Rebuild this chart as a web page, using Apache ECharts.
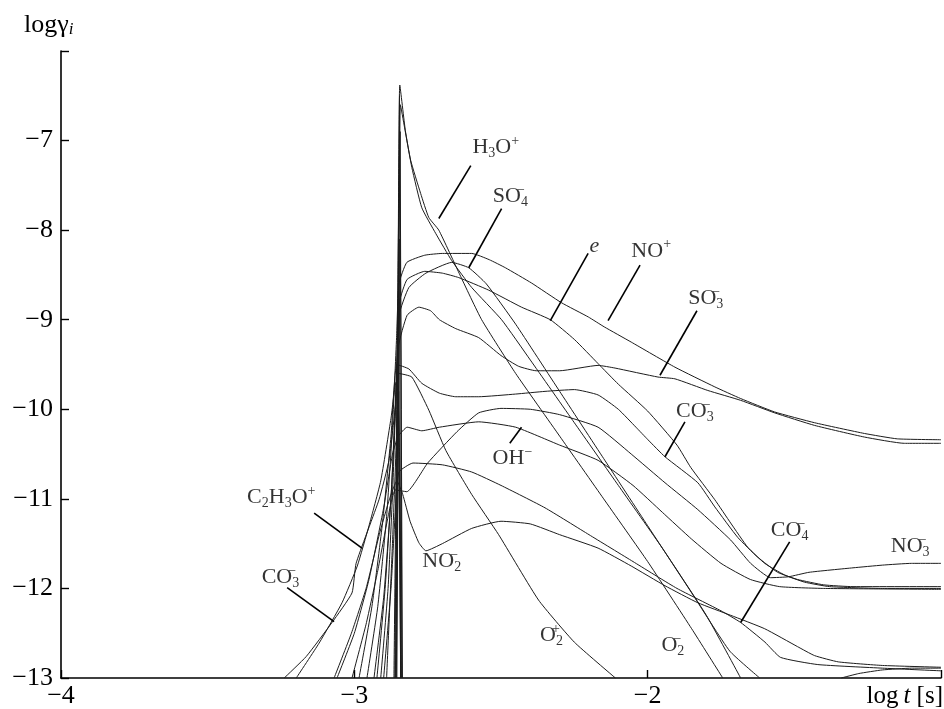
<!DOCTYPE html>
<html><head><meta charset="utf-8">
<script src="https://cdn.jsdelivr.net/npm/echarts@6/dist/echarts.min.js"></script>
<style>html,body{margin:0;padding:0;background:#fff}#c{width:944px;height:709px}</style>
</head><body><div id="c"></div>
<script>
// x = log t [s], y = log gamma_i
const xTicks = [-4, -3, -2];
const yTicks = [-13, -12, -11, -10, -9, -8, -7];

const cNOp = [[-2.957,-13],[-2.92,-12.2],[-2.89,-11.2],[-2.87,-10.2],[-2.856,-9.2],[-2.848,-8.6],[-2.821,-8.36],[-2.76,-8.28],[-2.7,-8.26],[-2.6,-8.26],[-2.54,-8.33],[-2.485,-8.42],[-2.396,-8.59],[-2.294,-8.81],[-2.202,-8.97],[-2.148,-9.08],[-2.056,-9.25],[-1.907,-9.53],[-1.771,-9.75],[-1.683,-9.88],[-1.567,-10.03],[-1.431,-10.15],[-1.261,-10.27],[-1.149,-10.33],[-1.0,-10.34]];
const cSO3m = [[-2.933,-13],[-2.9,-12.1],[-2.875,-11.0],[-2.86,-10.0],[-2.85,-9.3],[-2.82,-8.95],[-2.78,-8.86],[-2.74,-8.9],[-2.71,-9.0],[-2.654,-9.1],[-2.576,-9.2],[-2.5,-9.4],[-2.44,-9.52],[-2.38,-9.57],[-2.3,-9.57],[-2.169,-9.51],[-2.111,-9.54],[-1.965,-9.64],[-1.907,-9.66],[-1.795,-9.79],[-1.683,-9.9],[-1.567,-10.04],[-1.431,-10.18],[-1.261,-10.31],[-1.125,-10.38],[-1.0,-10.38]];
const cE = [[-2.91,-13],[-2.885,-12],[-2.868,-10.8],[-2.856,-9.6],[-2.846,-8.8],[-2.82,-8.55],[-2.76,-8.46],[-2.7,-8.48],[-2.644,-8.53],[-2.542,-8.67],[-2.43,-8.86],[-2.332,-9.0],[-2.25,-9.22],[-2.169,-9.49],[-2.1,-9.72],[-2.0,-10.02],[-1.9,-10.4],[-1.853,-10.65],[-1.771,-11.01],[-1.717,-11.27],[-1.659,-11.54],[-1.601,-11.72],[-1.533,-11.85],[-1.465,-11.93],[-1.38,-11.98],[-1.2,-12.0],[-1.0,-12.0]];
const cH3Op = [[-2.865,-13],[-2.857,-10.5],[-2.85,-8],[-2.845,-6.38],[-2.826,-6.89],[-2.808,-7.22],[-2.774,-7.59],[-2.746,-7.86],[-2.712,-8.0],[-2.64,-8.5],[-2.566,-9.0],[-2.45,-9.6],[-2.3,-10.3],[-2.15,-11.0],[-2.0,-11.7],[-1.85,-12.45],[-1.744,-13]];
const cX1 = [[-2.858,-13],[-2.852,-10],[-2.847,-7.5],[-2.843,-6.6],[-2.829,-6.85],[-2.804,-7.3],[-2.77,-7.75],[-2.722,-8.04],[-2.668,-8.34],[-2.6,-8.64],[-2.498,-9.0],[-2.4,-9.45],[-2.25,-10.15],[-2.1,-10.85],[-1.95,-11.55],[-1.8,-12.3],[-1.683,-13]];
const cSO4m = [[-2.923,-13],[-2.895,-12],[-2.872,-10.8],[-2.856,-9.6],[-2.848,-8.95],[-2.814,-8.64],[-2.756,-8.48],[-2.668,-8.36],[-2.61,-8.42],[-2.55,-8.6],[-2.45,-9.05],[-2.3,-9.8],[-2.15,-10.55],[-2.0,-11.3],[-1.85,-12.05],[-1.72,-12.7],[-1.618,-13]];
const cCO3mR = [[-2.984,-13],[-2.94,-12.2],[-2.905,-11.3],[-2.875,-10.3],[-2.855,-9.5],[-2.814,-9.55],[-2.77,-9.71],[-2.71,-9.82],[-2.654,-9.86],[-2.576,-9.86],[-2.45,-9.83],[-2.35,-9.8],[-2.25,-9.78],[-2.169,-9.84],[-2.1,-10.0],[-2.04,-10.2],[-1.999,-10.34],[-1.941,-10.53],[-1.829,-10.82],[-1.771,-11.09],[-1.693,-11.43],[-1.625,-11.65],[-1.557,-11.82],[-1.489,-11.9],[-1.4,-11.96],[-1.3,-11.98],[-1.0,-11.98]];
const cNO3m = [[-3.008,-13],[-2.96,-12.4],[-2.92,-11.8],[-2.885,-11.2],[-2.86,-10.9],[-2.821,-10.92],[-2.75,-10.6],[-2.65,-10.25],[-2.576,-10.04],[-2.5,-9.99],[-2.4,-10.0],[-2.3,-10.06],[-2.169,-10.2],[-2.056,-10.5],[-1.941,-10.82],[-1.829,-11.12],[-1.717,-11.46],[-1.649,-11.72],[-1.581,-11.88],[-1.52,-11.87],[-1.45,-11.82],[-1.3,-11.77],[-1.2,-11.74],[-1.1,-11.72],[-1.0,-11.72]];
const cOHm = [[-3.059,-13],[-3.0,-12.5],[-2.95,-11.9],[-2.9,-11.1],[-2.87,-10.5],[-2.85,-10.3],[-2.82,-10.2],[-2.77,-10.24],[-2.71,-10.2],[-2.576,-10.14],[-2.45,-10.2],[-2.3,-10.4],[-2.169,-10.57],[-2.05,-10.85],[-1.95,-11.15],[-1.85,-11.45],[-1.75,-11.72],[-1.65,-11.9],[-1.55,-11.98],[-1.4,-12.0],[-1.0,-12.01]];
const cNO2m = [[-3.069,-13],[-3.01,-12.5],[-2.96,-12.0],[-2.915,-11.4],[-2.88,-11.0],[-2.855,-10.8],[-2.835,-10.95],[-2.81,-11.25],[-2.78,-11.49],[-2.756,-11.58],[-2.7,-11.5],[-2.6,-11.33],[-2.5,-11.25],[-2.4,-11.28],[-2.3,-11.4],[-2.169,-11.55],[-2.056,-11.75],[-1.941,-11.97],[-1.829,-12.16],[-1.717,-12.3],[-1.601,-12.45],[-1.489,-12.65],[-1.431,-12.75],[-1.35,-12.82],[-1.2,-12.86],[-1.0,-12.88]];
const cO2p = [[-2.89,-13],[-2.87,-11.5],[-2.855,-10.2],[-2.848,-9.6],[-2.804,-9.64],[-2.746,-10.01],[-2.688,-10.46],[-2.6,-10.95],[-2.508,-11.4],[-2.372,-12.13],[-2.25,-12.6],[-2.11,-13]];
const cCO4m = [[-2.9,-13],[-2.875,-12],[-2.858,-11],[-2.848,-10.7],[-2.8,-10.6],[-2.7,-10.62],[-2.6,-10.7],[-2.5,-10.85],[-2.35,-11.1],[-2.2,-11.4],[-2.05,-11.7],[-1.9,-12.0],[-1.75,-12.25],[-1.683,-12.38],[-1.6,-12.6],[-1.547,-12.77],[-1.42,-12.85],[-1.2,-12.89],[-1.0,-12.92]];
const cC2H3Op = [[-3.198,-13],[-3.12,-12.61],[-3.042,-12.16],[-2.99,-11.75],[-2.95,-11.3],[-2.91,-10.8],[-2.875,-10.1],[-2.858,-9.7],[-2.85,-9.75],[-2.842,-13]];
const cCO3mL = [[-3.239,-13],[-3.164,-12.76],[-3.076,-12.38],[-3.008,-12.05],[-2.994,-11.72],[-2.916,-11.01],[-2.882,-10.57],[-2.858,-9.9],[-2.853,-9.64],[-2.846,-10.5],[-2.84,-13]];
const cLate = [[-1.34,-13],[-1.28,-12.95],[-1.2,-12.91],[-1.1,-12.89],[-1.0,-12.89]];
const cSpike1 = [[-2.862,-13],[-2.853,-9.5],[-2.846,-6.5],[-2.841,-9.5],[-2.838,-13]];
const cSpike2 = [[-2.86,-13],[-2.85,-9.0],[-2.844,-6.9],[-2.84,-10],[-2.836,-13]];
const cSpike3 = [[-2.857,-13],[-2.849,-9.8],[-2.842,-13]];
const cSpike4 = [[-2.855,-13],[-2.847,-8.1],[-2.841,-13]];

const labelNames = ['H3O+','SO4-','e','NO+','SO3-','CO3-','OH-','C2H3O+','CO3-','NO2-','O2+','O2-','CO4-','NO3-'];
const labelText = ['H{b|3}O{p|+}','SO{m|−}{b|4}','{i|e}','NO{p|+}','SO{m|−}{b|3}','CO{m|−}{b|3}','OH{p|−}','C{b|2}H{b|3}O{p|+}','CO{m|−}{b|3}','NO{m|−}{b|2}','O{m|+}{b|2}','O{m|−}{b|2}','CO{m|−}{b|4}','NO{m|−}{b|3}'];
const labelX = [-2.518,-2.468,-2.182,-1.988,-1.802,-1.839,-2.461,-3.249,-3.252,-2.702,-2.328,-1.914,-1.516,-1.105];
const labelY = [-7.07,-7.62,-8.18,-8.23,-8.76,-10.02,-10.55,-10.98,-11.88,-11.70,-12.52,-12.63,-11.35,-11.53];
const leaderFrom = [[-2.603,-7.28],[-2.498,-7.76],[-2.203,-8.26],[-2.026,-8.39],[-1.832,-8.9],[-1.873,-10.14],[-2.47,-10.38],[-3.137,-11.16],[-3.229,-11.99],[-1.516,-11.48]];
const leaderTo = [[-2.712,-7.87],[-2.61,-8.42],[-2.332,-9.01],[-2.135,-9.01],[-1.958,-9.62],[-1.941,-10.53],[-2.43,-10.2],[-2.974,-11.55],[-3.069,-12.37],[-1.683,-12.38]];

const curves = [cNOp,cSO3m,cE,cH3Op,cX1,cSO4m,cCO3mR,cNO3m,cOHm,cNO2m,cO2p,cCO4m,cC2H3Op,cCO3mL,cLate];
const spikes = [cSpike1,cSpike2,cSpike3,cSpike4];

const FONT = '"Liberation Serif","DejaVu Serif",serif';
const chart = echarts.init(document.getElementById('c'), null, {renderer:'canvas'});
const minus = v => (v < 0 ? '\u2212' + Math.abs(v) : String(v));
const series = curves.map(d => ({type:'line', data:d, symbol:'none', smooth:0.15, lineStyle:{color:'#1c1c1c', width:1}, silent:true, z:2}));
spikes.forEach(d => series.push({type:'line', data:d, symbol:'none', smooth:false, lineStyle:{color:'#1c1c1c', width:1}, silent:true, z:2}));
series.push({
  type:'lines', coordinateSystem:'cartesian2d', silent:true, z:3,
  lineStyle:{color:'#000', width:1.6, opacity:1},
  data: leaderFrom.map((p,i)=>({coords:[p, leaderTo[i]]}))
});
const rich = {
  b:{fontFamily:FONT, fontSize:14, verticalAlign:'bottom', lineHeight:14, color:'#000'},
  p:{fontFamily:FONT, fontSize:14, verticalAlign:'top', lineHeight:14, color:'#000'},
  m:{fontFamily:FONT, fontSize:14, verticalAlign:'top', lineHeight:14, width:0, color:'#000'},
  i:{fontFamily:FONT, fontSize:22, fontStyle:'italic', color:'#000'}
};
series.push({
  type:'scatter', symbolSize:0, silent:true, z:4,
  data: labelX.map((x,i)=>({value:[x, labelY[i]], name:labelNames[i]})),
  label:{show:true, position:'inside', fontFamily:FONT, fontSize:22, color:'#000', lineHeight:26,
    formatter: p => labelText[p.dataIndex], rich: rich}
});
chart.setOption({
  animation:false,
  backgroundColor:'#fff',
  grid:{left:61, right:0, top:51, bottom:31, containLabel:false},
  xAxis:{type:'value', min:-4, max:-1, interval:1,
    axisLine:{lineStyle:{color:'#000', width:1.6}},
    axisTick:{inside:true, length:8, lineStyle:{color:'#000', width:1.4}},
    splitLine:{show:false},
    axisLabel:{fontFamily:FONT, fontSize:26, color:'#000', margin:5,
      formatter: v => (xTicks.indexOf(v) >= 0 ? minus(v) : '')}
  },
  yAxis:{type:'value', min:-13, max:-6, interval:1,
    axisLine:{show:true, lineStyle:{color:'#000', width:1.6}},
    axisTick:{show:true, inside:true, length:8, lineStyle:{color:'#000', width:1.4}},
    splitLine:{show:false},
    axisLabel:{fontFamily:FONT, fontSize:26, color:'#000', margin:8,
      formatter: v => (yTicks.indexOf(v) >= 0 ? minus(v) : '')}
  },
  graphic:[
    {type:'text', left:24, top:12, style:{text:'log\u03B3{i|i}', font:'26px '+FONT, fill:'#000',
      rich:{i:{fontFamily:FONT, fontSize:17, fontStyle:'italic', verticalAlign:'bottom', lineHeight:16, fill:'#000'}}}},
    {type:'text', right:1, bottom:0, style:{text:'log\u2009{i|t} [s]', font:'25px '+FONT, fill:'#000',
      rich:{i:{fontFamily:FONT, fontSize:25, fontStyle:'italic', fill:'#000'}}}}
  ],
  series: series
});
</script></body></html>
